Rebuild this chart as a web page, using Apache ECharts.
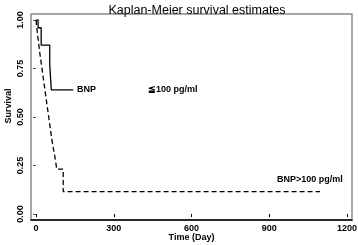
<!DOCTYPE html>
<html>
<head>
<meta charset="utf-8">
<script src="https://cdn.jsdelivr.net/npm/echarts@6/dist/echarts.min.js"></script>
<style>
  html,body{margin:0;padding:0;background:#fff;}
  #km-chart{width:358px;height:245px;}
</style>
</head>
<body>
<div id="km-chart"></div>
<script>
  // BNP <=100 pg/ml (day, survival)
  let lowDays = [0, 8, 20, 53, 59, 144]
  let lowSurv = [1.00, 0.96, 0.87, 0.77, 0.64, 0.64]
  // BNP >100 pg/ml
  let highDays = [0, 3, 6, 10, 13, 17, 21, 25, 29, 33, 37, 41, 45, 49, 53, 57, 61, 66, 71, 76, 80, 105, 1096]
  let highSurv = [1.00, 0.962, 0.923, 0.885, 0.846, 0.808, 0.769, 0.731, 0.692, 0.654, 0.615, 0.577, 0.538, 0.500, 0.462, 0.423, 0.385, 0.346, 0.308, 0.269, 0.231, 0.115, 0.115]
  // axis ranges / ticks
  let xTicks = [0, 300, 600, 900, 1200]
  let yTicks = [0, 0.25, 0.50, 0.75, 1.00]
  // text labels placed in data coords
  let lowLabelAt = [158, 0.642]
  let lowUnitAt = [432, 0.642]
  let highLabelAt = [930, 0.178]

  let font = 'Liberation Sans'
  let zip = function (a, b) {
    let out = []
    for (var i = 0; i < a.length; i++) out.push([a[i], b[i]])
    return out
  }
  let textMark = function (coord, txt) {
    return {
      coord: coord,
      symbol: 'circle',
      symbolSize: 0,
      label: {
        show: true,
        formatter: txt,
        position: [0, 0],
        align: 'left',
        verticalAlign: 'middle',
        color: '#000',
        fontFamily: font,
        fontSize: 9,
        fontWeight: 'bold'
      }
    }
  }

  let chart = echarts.init(document.getElementById('km-chart'))
  let option = {
    animation: false,
    backgroundColor: '#fff',
    title: {
      text: 'Kaplan-Meier survival estimates',
      left: 192,
      textAlign: 'center',
      top: -1,
      textStyle: {fontFamily: font, fontSize: 12.5, fontWeight: 'normal', color: '#000'}
    },
    grid: [
      // frame (plot region outline)
      {left: 31, right: 6, top: 14, bottom: 25, show: true, borderColor: '#8a8a8a', borderWidth: 1.5,
        backgroundColor: '#fff', outerBoundsMode: 'none', containLabel: false},
      // data area
      {left: 36, right: 11, top: 20, bottom: 31, outerBoundsMode: 'none', containLabel: false}
    ],
    xAxis: [
      {
        gridIndex: 0, type: 'value', min: 0, max: 1,
        axisLine: {show: true, lineStyle: {color: '#000', width: 1.5}},
        axisTick: {show: false}, axisLabel: {show: false}, splitLine: {show: false}
      },
      {
        gridIndex: 1, type: 'value', min: xTicks[0], max: xTicks[xTicks.length - 1],
        interval: xTicks[1] - xTicks[0], offset: 6,
        axisLine: {show: false},
        axisTick: {show: true, length: 3, lineStyle: {color: '#000', width: 1}},
        axisLabel: {color: '#000', fontFamily: font, fontSize: 9, fontWeight: 'bold', margin: 4,
          formatter: function (v) { return String(v) }},
        splitLine: {show: false},
        name: 'Time (Day)', nameLocation: 'middle', nameGap: 13, nameMoveOverlap: false,
        nameTextStyle: {color: '#000', fontFamily: font, fontSize: 9, fontWeight: 'bold'}
      }
    ],
    yAxis: [
      {
        gridIndex: 0, type: 'value', min: 0, max: 1,
        axisLine: {show: false}, axisTick: {show: false}, axisLabel: {show: false}, splitLine: {show: false}
      },
      {
        gridIndex: 1, type: 'value', min: yTicks[0], max: yTicks[yTicks.length - 1],
        interval: yTicks[1] - yTicks[0], offset: 5,
        axisLine: {show: false},
        axisTick: {show: true, length: 3, lineStyle: {color: '#555', width: 1}},
        axisLabel: {
          color: '#000', fontFamily: font, fontSize: 9, fontWeight: 'bold', rotate: 90, margin: 6,
          formatter: function (v) { return v.toFixed(2) }
        },
        splitLine: {show: false},
        name: 'Survival', nameLocation: 'middle', nameGap: 18, nameMoveOverlap: false,
        nameTextStyle: {color: '#000', fontFamily: font, fontSize: 9, fontWeight: 'bold', padding: [0, 0, 0, 22]}
      }
    ],
    series: [
      {
        name: 'BNP<=100', type: 'line', xAxisIndex: 1, yAxisIndex: 1,
        step: 'end', symbol: 'none',
        lineStyle: {color: '#000', width: 1.3},
        data: zip(lowDays, lowSurv),
        markPoint: {data: [textMark(lowLabelAt, 'BNP'), textMark(lowUnitAt, '≦100 pg/ml')]}
      },
      {
        name: 'BNP>100', type: 'line', xAxisIndex: 1, yAxisIndex: 1,
        step: 'end', symbol: 'none',
        lineStyle: {color: '#000', width: 1.3, type: [5, 3]},
        data: zip(highDays, highSurv),
        markPoint: {data: [textMark(highLabelAt, 'BNP>100 pg/ml')]}
      }
    ]
  }
  chart.setOption(option)
</script>
</body>
</html>
